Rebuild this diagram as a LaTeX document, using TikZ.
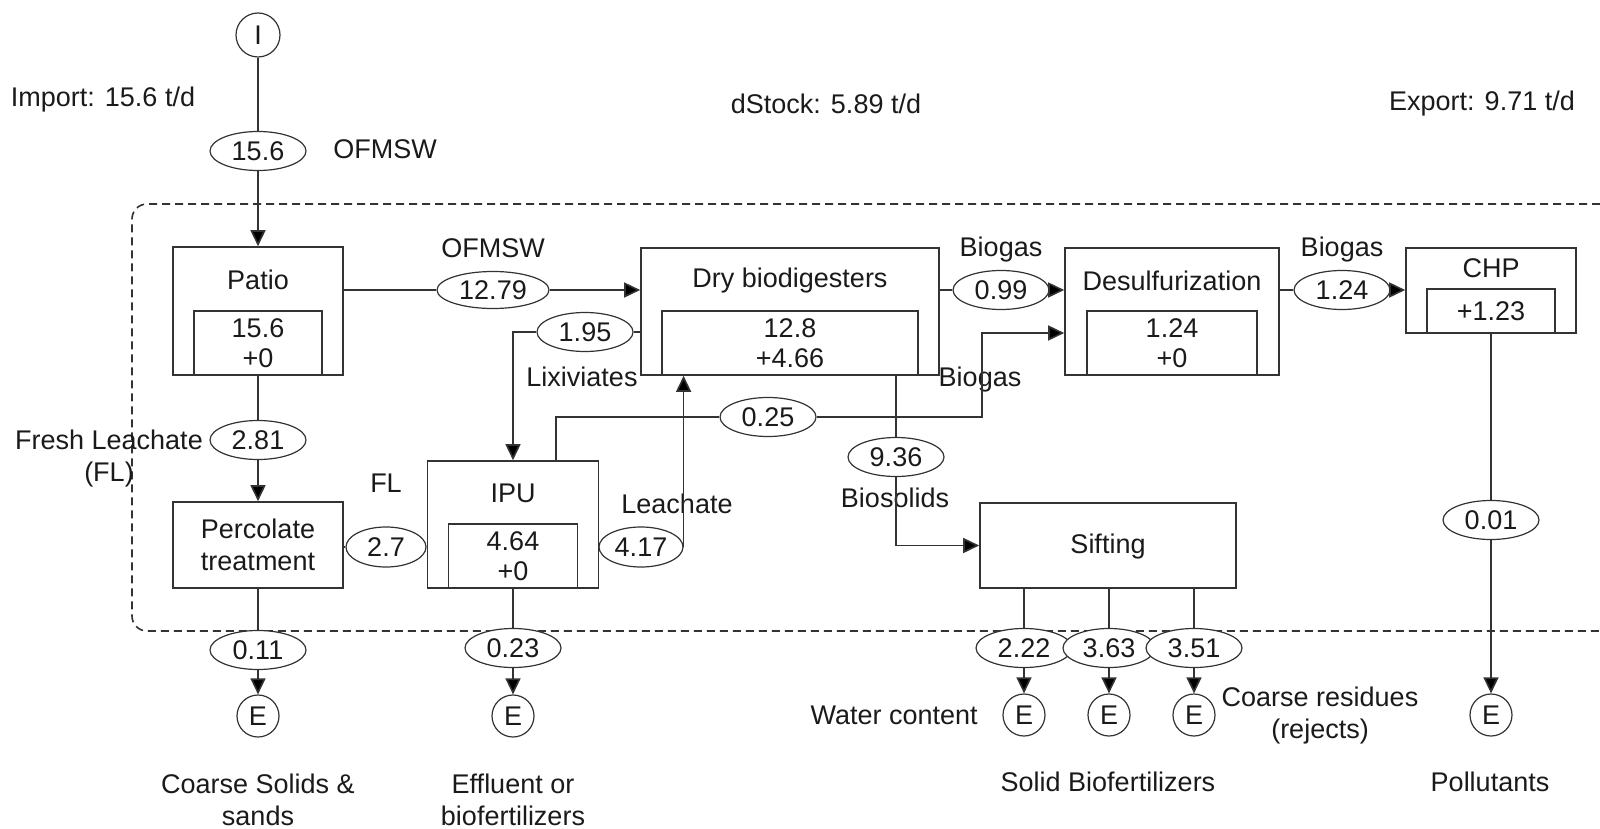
\documentclass[tikz,border=0pt]{standalone}
\usepackage{fontspec}
\setmainfont{Liberation Sans}
\usetikzlibrary{arrows.meta,shapes.geometric,calc}
\pgfdeclarelayer{background}
\pgfsetlayers{background,main}
\definecolor{ln}{HTML}{333333}
\definecolor{tx}{HTML}{1A1A1A}
\tikzset{
  every node/.style={font=\fontsize{13.5}{15}\selectfont, text=tx},
  proc/.style={draw=ln, line width=0.8pt, inner sep=0pt},
  innerbox/.style={draw=ln, line width=0.8pt, inner sep=0pt, align=center},
  lbl/.style={inner sep=0pt, align=center},
  lbltwo/.style={inner sep=0pt, align=center, font=\fontsize{13.5}{16}\selectfont},
  flow/.style={ellipse, draw=ln, line width=0.6pt, fill=white, inner sep=0pt, minimum width=48pt, minimum height=19.5pt},
  term/.style={ellipse, draw=ln, line width=0.6pt, fill=white, inner sep=0pt, minimum width=21pt, minimum height=21pt},
  con/.style={draw=ln, line width=0.8pt},
  arr/.style={con, -{Triangle[length=8pt,width=7.5pt,fill=black]}},
  sysb/.style={draw=ln, line width=0.8pt, dash pattern=on 4pt off 2.5pt, rounded corners=7.5pt},
}
\begin{document}
\begin{tikzpicture}[x=0.5pt,y=-0.5pt]
\useasboundingbox (0,0) rectangle (1600,829);

% process boxes
\node[proc, minimum width=85pt, minimum height=64pt] (patio) at (258,311) {};
\node[innerbox, minimum width=64pt, minimum height=32pt] (patioin) at (258,343) {15.6\\+0};
\node[lbl] (patiot) at (258,280) {Patio};

\node[proc, minimum width=149pt, minimum height=63.5pt] (dry) at (790,311.5) {};
\node[innerbox, minimum width=128pt, minimum height=32pt] (dryin) at (790,343) {12.8\\+4.66};
\node[lbl] (dryt) at (790,281) {Dry biodigesters};

\node[proc, minimum width=107pt, minimum height=63.5pt] (desulf) at (1172,311.5) {};
\node[innerbox, minimum width=85pt, minimum height=32pt] (desulfin) at (1172,343) {1.24\\+0};
\node[lbl] (desulft) at (1172,281) {Desulfurization};

\node[proc, minimum width=85pt, minimum height=42.5pt] (chp) at (1491,290.5) {};
\node[innerbox, minimum width=64pt, minimum height=22pt] (chpin) at (1491,311) {+1.23};
\node[lbl] (chpt) at (1491,268) {CHP};

\node[proc, minimum width=85pt, minimum height=43pt] (perc) at (258,545) {};
\node[lbltwo] (perct) at (258,545) {Percolate\\treatment};

\node[proc, minimum width=85.5pt, minimum height=63.5pt] (ipu) at (513,524.5) {};
\node[innerbox, minimum width=64.5pt, minimum height=32pt] (ipuin) at (513,556) {4.64\\+0};
\node[lbl] (iput) at (513,493) {IPU};

\node[proc, minimum width=128pt, minimum height=42.5pt] (sift) at (1108,545.5) {};
\node[lbl] (siftt) at (1108,547) {Sifting};

% import / export terminals
\node[term, minimum width=22pt, minimum height=22pt] (I) at (258,35) {I};
\node[term] (E1) at (258,716) {E};
\node[term] (E2) at (513,716) {E};
\node[term] (E3) at (1024,715) {E};
\node[term] (E4) at (1109,715) {E};
\node[term] (E5) at (1194,715) {E};
\node[term] (E6) at (1491,715) {E};

% flow values
\node[flow] (f156) at (258,151) {15.6};
\node[flow, minimum width=56pt, minimum height=18.5pt] (f1279) at (493,290) {12.79};
\node[flow] (f195) at (585,332) {1.95};
\node[flow] (f099) at (1001,290) {0.99};
\node[flow] (f124) at (1342,290) {1.24};
\node[flow] (f025) at (768,417) {0.25};
\node[flow] (f936) at (896,457) {9.36};
\node[flow] (f281) at (258,440) {2.81};
\node[flow, minimum width=40pt, minimum height=20pt] (f27) at (386,547) {2.7};
\node[flow, minimum width=42pt, minimum height=20pt] (f417) at (641,547) {4.17};
\node[flow] (f001) at (1491,520) {0.01};
\node[flow] (f011) at (258,650) {0.11};
\node[flow] (f023) at (513,648) {0.23};
\node[flow] (f222) at (1024,648) {2.22};
\node[flow, minimum width=46pt] (f363) at (1109,648) {3.63};
\node[flow] (f351) at (1194,648) {3.51};

% labels
\node[lbl] (imp) at (103,100) {Import: 15.6 t/d};
\node[lbl] (dst) at (826,104) {dStock: 5.89 t/d};
\node[lbl] (expo) at (1482,104) {Export: 9.71 t/d};
\node[lbl] (l1) at (385,149) {OFMSW};
\node[lbl] (l2) at (493,248) {OFMSW};
\node[lbl] (l3) at (1001,250) {Biogas};
\node[lbl] (l4) at (1342,250) {Biogas};
\node[lbl] (l5) at (980,380) {Biogas};
\node[lbl] (l6) at (582,377) {Lixiviates};
\node[lbl] (l7) at (677,504) {Leachate};
\node[lbl] (l8) at (386,483) {FL};
\node[lbltwo] (l9) at (109,459) {Fresh Leachate\\(FL)};
\node[lbl] (l10) at (895,498) {Biosolids};
\node[lbl, anchor=east] (l11) at (978,715) {Water content};
\node[lbltwo] (l12) at (1320,716) {Coarse residues\\(rejects)};
\node[lbltwo] (l13) at (258,800) {Coarse Solids \&\\sands};
\node[lbltwo] (l14) at (513,800) {Effluent or\\biofertilizers};
\node[lbl] (l15) at (1108,782) {Solid Biofertilizers};
\node[lbl] (l16) at (1490,782) {Pollutants};

% system boundary
\begin{pgfonlayer}{background}
\draw[sysb] (1600,204) -- (132,204) -- (132,631) -- (1600,631);
\end{pgfonlayer}

% connectors
\draw[con] (I) -- (f156);
\draw[arr] (f156) -- (patio);
\draw[con] (patio.east |- f1279) -- (f1279);
\draw[arr] (f1279) -- (dry.west |- f1279);
\draw[con] (dry.east |- f099) -- (f099);
\draw[arr] (f099) -- (desulf.west |- f099);
\draw[con] (desulf.east |- f124) -- (f124);
\draw[arr] (f124) -- (chp.west |- f124);
\draw[con] (dry.west |- f195) -- (f195);
\draw[arr] (f195.west) -| (ipu.north);
\coordinate (g1) at (556,417);
\coordinate (g2) at (982,333);
\draw[con] (ipu.north -| g1) -- (g1) -- (f025.west);
\draw[arr] (f025.east) -| (g2) -- (desulf.west |- g2);
\draw[arr] (f417.east) -- (dry.south -| f417.east);
\draw[con] (perc.east |- f27) -- (f27.west);
\draw[con] (f27.east) -- (ipu.west |- f27);
\draw[con] (patio) -- (f281);
\draw[arr] (f281) -- (perc);
\draw[con] (perc) -- (f011);
\draw[arr] (f011) -- (E1);
\draw[con] (ipu) -- (f023);
\draw[arr] (f023) -- (E2);
\draw[con] (dry.south -| f936) -- (f936);
\draw[arr] (f936.south) |- (sift.west);
\draw[con] (sift.south -| f222) -- (f222);
\draw[arr] (f222) -- (E3);
\draw[con] (sift.south -| f363) -- (f363);
\draw[arr] (f363) -- (E4);
\draw[con] (sift.south -| f351) -- (f351);
\draw[arr] (f351) -- (E5);
\draw[con] (chp) -- (f001);
\draw[arr] (f001) -- (E6);
\end{tikzpicture}
\end{document}
